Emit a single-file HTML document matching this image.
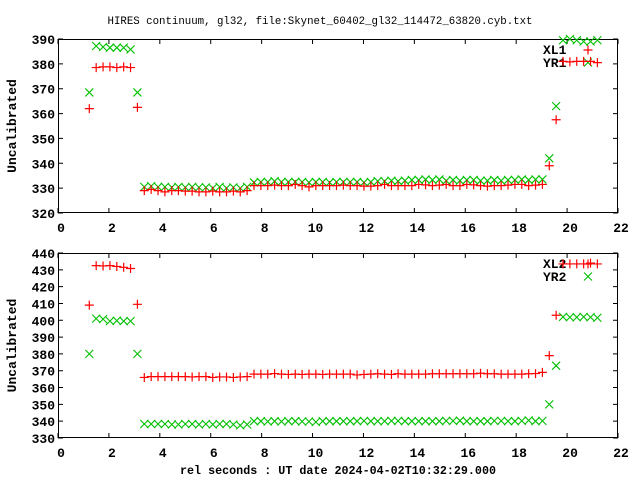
<!DOCTYPE html>
<html><head><meta charset="utf-8"><style>
html,body{margin:0;padding:0;background:#fff;}
svg{display:block;}
text{font-family:"Liberation Mono",monospace;fill:#000;}
</style></head><body>
<svg id="c" width="640" height="480" xmlns="http://www.w3.org/2000/svg">
<rect width="640" height="480" fill="#fff"/>
<text x="320" y="24" text-anchor="middle" font-size="11" textLength="425" lengthAdjust="spacingAndGlyphs">HIRES continuum, gl32, file:Skynet_60402_gl32_114472_63820.cyb.txt</text>
<text x="338" y="474" text-anchor="middle" font-size="12" font-weight="bold" textLength="316" lengthAdjust="spacingAndGlyphs">rel seconds : UT date 2024-04-02T10:32:29.000</text>
</svg>
<script>
const times=[1.23,1.50,1.77,2.04,2.31,2.58,2.85,3.12,3.39,3.66,3.93,4.20,4.47,4.73,5.00,5.27,5.54,5.81,6.08,6.35,6.62,6.89,7.16,7.43,7.70,7.97,8.24,8.51,8.78,9.05,9.32,9.59,9.86,10.13,10.40,10.67,10.94,11.21,11.48,11.75,12.02,12.29,12.56,12.83,13.10,13.36,13.63,13.90,14.17,14.44,14.71,14.98,15.25,15.52,15.79,16.06,16.33,16.60,16.87,17.14,17.41,17.68,17.95,18.22,18.49,18.76,19.03,19.30,19.57,19.84,20.11,20.38,20.65,20.92,21.19];
const xl1=[362,378.5,378.8,378.8,378.5,378.8,378.5,362.5,
329,329.5,329,328.5,329,329,328.8,328.8,328.5,328.5,328.8,328.5,328.5,328.8,328.5,329,
331,331,331,331.2,331,331,331.5,331,330.5,331,331,331,331,331.2,331,331,330.8,330.8,331,331.5,331,331,331,331,331.5,331.3,331,331.2,331.5,331,331,331.5,331.3,331,330.8,331,331,331.2,331.5,331.5,331,331.2,
331.5,339,357.5,381,380.8,381,381,381,380.5];
const yr1=[368.5,387.2,386.8,386.5,386.5,386.5,385.8,368.5,
330.5,330.8,330.5,330.5,330.3,330.5,330.3,330.5,330.3,330.3,330,330.5,330,330.3,330,330.5,
332.3,332.5,332.5,332.8,332.5,332.5,332.5,332.5,332.3,332.5,332.5,332.3,332.5,332.5,332.5,332.5,332.3,332.5,332.8,332.8,333,332.8,333,333.3,333.3,333.5,333.3,333.5,333,333.3,333,333.3,333.3,333,333,333.3,333,333.3,333.3,333.5,333.3,333.5,
333.5,342,363,389.5,390,389.5,389,389,389.5];
const xl2=[409,432.5,432.3,432.5,432,431.5,430.8,409.5,
366,366.5,366.5,366.5,366.5,366.5,366.5,366.3,366.5,366.5,366,366.3,366.3,366,366.3,366.5,
368,368,368,368.3,368,367.8,368,367.8,368,368,367.8,368,368,368,368,367.5,367.8,368,368.2,368,367.8,368.2,368,368,368,368,368.2,368.2,368.2,368.2,368.2,368.2,368.2,368.5,368.2,368.2,368,368,368,368,368.2,368.3,
369,379,403,433.5,433.5,433.5,433.5,434,433.5];
const yr2=[380,401,400.7,399.5,399.8,399.5,399.5,380,
338.3,338.3,338.3,338.3,338,338,338.3,338.3,338,338.3,338,338.3,338.3,338,337.5,338,
340,340,339.8,340,339.8,340,340,339.8,339.8,339.5,340,340,340,340,340,340,340.2,340,340,340,340.2,340.2,340,340,340,340,340,340,340.2,340.2,340.3,340,340,340,340,340.2,340.2,340,340,340.2,340.5,340,
340.2,350,373,402,401.8,401.8,402,401.8,401.5];
const xTicks=[0,2,4,6,8,10,12,14,16,18,20,22];
const yTicks1=[320,330,340,350,360,370,380,390];
const yTicks2=[330,340,350,360,370,380,390,400,410,420,430,440];
const NS='http://www.w3.org/2000/svg';
const svg=document.getElementById('c');
function mk(tag,attrs,parent){const e=document.createElementNS(NS,tag);for(const k in attrs)e.setAttribute(k,attrs[k]);(parent||svg).appendChild(e);return e;}
function panel(id,top,bot,yTicks,sA,sB,nameA,nameB){
  const L=58,R=618,ymin=yTicks[0],ymax=yTicks[yTicks.length-1];
  const sx=v=>L+(v-0)/(22-0)*(R-L);
  const sy=v=>bot-(v-ymin)/(ymax-ymin)*(bot-top);
  const g=mk('g',{});
  
  
  yTicks.forEach(v=>{
    const y=sy(v);
    const l=mk('path',{d:`M${L} ${y}h5M${R} ${y}h-5`,stroke:'#000','stroke-width':1},g);
    
    
    const t=mk('text',{x:55,y:y+5,'text-anchor':'end','font-size':13,'font-weight':'bold'},g);
    
    
    t.textContent=v;
  });
  xTicks.forEach(v=>{
    const x=sx(v);
    const l=mk('path',{d:`M${x} ${bot}v-5M${x} ${top}v5`,stroke:'#000','stroke-width':1},g);
    
    
    const t=mk('text',{x:x+3,y:bot+19,'text-anchor':'middle','font-size':13,'font-weight':'bold'},g);
    
    
    t.textContent=v;
  });
  const fr=mk('rect',{x:L+0.5,y:top+0.5,width:R-L-1,height:bot-top-1,fill:'none',stroke:'#000','stroke-width':1},g);
  
  
  const yl=mk('text',{x:0,y:0,transform:`translate(16,${(top+bot)/2}) rotate(-90)`,'text-anchor':'middle','font-size':13,'font-weight':'bold'},g);
  
  
  yl.textContent='Uncalibrated';
  function plus(x,y,p){const e=mk('path',{d:`M${x-4.5} ${y}h9M${x} ${y-4.5}v9`,stroke:'#ff0000','stroke-width':1.2,fill:'none'},p);return e;}
  function cross(x,y,p){const e=mk('path',{d:`M${x-4} ${y-4}l8 8M${x-4} ${y+4}l8 -8`,stroke:'#00c000','stroke-width':1.1,fill:'none'},p);return e;}
  const lg=mk('g',{},g);
  
  
  const t1=mk('text',{x:543,y:top+15,'font-size':13,'font-weight':'bold'},lg);
  
  
  t1.textContent=nameA;
  const t2=mk('text',{x:543,y:top+28,'font-size':13,'font-weight':'bold'},lg);
  
  
  t2.textContent=nameB;
  const m1=plus(588,top+11,lg);
  
  
  const m2=cross(588,top+23.5,lg);
  
  
  const gb=mk('g',{},g);
  
  
  sB.forEach((v,i)=>{
    const e=cross(sx(times[i]),sy(v),gb);
    
    
  });
  const ga=mk('g',{},g);
  
  
  sA.forEach((v,i)=>{
    const e=plus(sx(times[i]),sy(v),ga);
    
    
  });
}
panel('top-panel',39,213,yTicks1,xl1,yr1,'XL1','YR1');
panel('bottom-panel',253,438,yTicks2,xl2,yr2,'XL2','YR2');
</script>
</body></html>
